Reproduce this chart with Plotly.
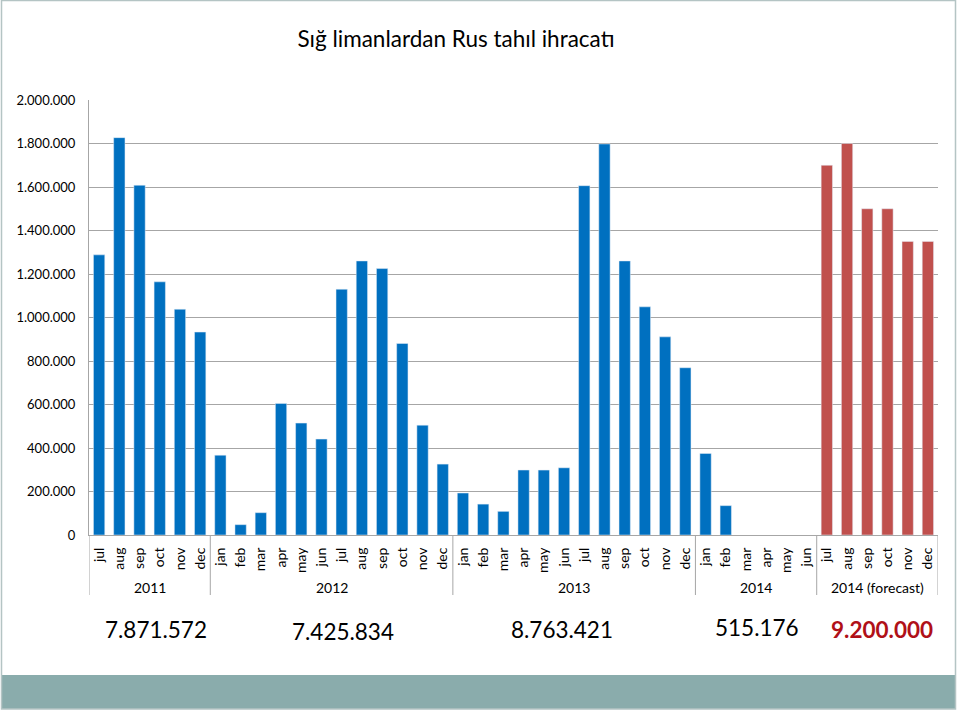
import plotly.graph_objects as go

# ---------------- data ----------------
months = ["jul", "aug", "sep", "oct", "nov", "dec",
          "jan", "feb", "mar", "apr", "may", "jun", "jul", "aug", "sep", "oct", "nov", "dec",
          "jan", "feb", "mar", "apr", "may", "jun", "jul", "aug", "sep", "oct", "nov", "dec",
          "jan", "feb", "mar", "apr", "may", "jun",
          "jul", "aug", "sep", "oct", "nov", "dec"]

actual = [1288000, 1827000, 1608000, 1164000, 1038000, 933000,
          367000, 47500, 102600, 605000, 514500, 441000,
          1130000, 1260000, 1225000, 880500, 505000, 326000,
          193000, 142000, 108700, 298600, 298600, 309000,
          1606000, 1798000, 1260000, 1049000, 911000, 769000,
          375000, 135000, None, None, None, None]

forecast = [1700000, 1800000, 1500000, 1500000, 1350000, 1350000]

groups = ["2011", "2012", "2013", "2014", "2014 (forecast)"]
group_sizes = [6, 12, 12, 6, 6]
totals = ["7.871.572", "7.425.834", "8.763.421", "515.176", "9.200.000"]

title_text = "Sığ limanlardan Rus tahıl ihracatı"
y_ticks = [0, 200000, 400000, 600000, 800000, 1000000, 1200000, 1400000, 1600000, 1800000, 2000000]

# ---------------- layout geometry ----------------
FW, FH = 960, 712
L, R, T, B = 89, 938, 100, 535
PW, PH = R - L, B - T


def px(p):
    return (p - L) / PW


def py(p):
    return (B - p) / PH


FONT = "Lato, Carlito, 'Open Sans', sans-serif"
BLUE = "#0070c0"
RED = "#c0504d"
GRID = "#a6a6a6"

x_all = list(range(len(months)))
x_actual = x_all[:len(actual)]
x_fore = x_all[len(actual):]

fig = go.Figure()
fig.add_trace(go.Bar(x=x_actual, y=actual, marker_color=BLUE, width=0.56,
                     showlegend=False, hoverinfo="y"))
fig.add_trace(go.Bar(x=x_fore, y=forecast, marker_color=RED, width=0.56,
                     showlegend=False, hoverinfo="y"))

shapes = []
annotations = []

# frame: teal band at bottom + thin grey border
shapes.append(dict(type="rect", xref="paper", yref="paper",
                   x0=px(1), x1=px(956), y0=py(709), y1=py(675),
                   fillcolor="#8aacac", line=dict(width=0), layer="below"))
shapes.append(dict(type="rect", xref="paper", yref="paper",
                   x0=px(1.5), x1=px(955.5), y0=py(709), y1=py(0.5),
                   fillcolor="rgba(0,0,0,0)", line=dict(color="#b4c4c4", width=1.5)))

# group separators below the axis and group labels / totals
start = 0
bounds = [-0.5]
for g, n in zip(groups, group_sizes):
    start += n
    bounds.append(start - 0.5)
for b in bounds:
    shapes.append(dict(type="line", xref="x", yref="paper", x0=b, x1=b,
                       y0=0, y1=py(595), line=dict(color=GRID, width=1)))

total_y = [629, 631, 629, 627, 629]
total_x_px = [155.5, 342.8, 562.3, 756.7, 881.7]
for i, g in enumerate(groups):
    center = (bounds[i] + bounds[i + 1]) / 2
    annotations.append(dict(x=center, xref="x", y=py(587), yref="paper",
                            text=g, showarrow=False, xanchor="center", yanchor="middle",
                            font=dict(family=FONT, size=14, color="#000000")))
    last = i == len(groups) - 1
    annotations.append(dict(x=px(total_x_px[i]), xref="paper", y=py(total_y[i]), yref="paper",
                            text=("<b>%s</b>" % totals[i]) if last else totals[i],
                            showarrow=False, xanchor="center", yanchor="middle",
                            font=dict(family=FONT, size=22.5,
                                      color="#b01018" if last else "#000000")))

fig.update_layout(
    width=FW, height=FH,
    margin=dict(l=L, r=FW - R, t=T, b=FH - B, pad=0),
    paper_bgcolor="white", plot_bgcolor="white",
    separators=",.",
    barmode="overlay",
    font=dict(family=FONT, size=12, color="#000000"),
    title=dict(text=title_text, x=px(456), xref="paper", xanchor="center",
               y=1 - 39 / FH, yanchor="middle", yref="container",
               font=dict(family=FONT, size=22.5, color="#000000")),
    xaxis=dict(range=[-0.5, len(months) - 0.5], tickmode="array", tickvals=x_all,
               ticktext=months, tickangle=-90, showgrid=False, zeroline=False,
               showline=True, linecolor=GRID, linewidth=1, ticks="",
               ticklabelstandoff=6,
               tickfont=dict(family=FONT, size=14, color="#000000"),
               automargin=False, fixedrange=True),
    yaxis=dict(range=[0, 2000000], tickmode="array", tickvals=y_ticks,
               tickformat=",d", showgrid=True, gridcolor=GRID, gridwidth=1,
               zeroline=False, showline=True, linecolor=GRID, linewidth=1,
               ticks="", ticklabelstandoff=10,
               tickfont=dict(family=FONT, size=13, color="#000000"),
               automargin=False, fixedrange=True),
    shapes=shapes,
    annotations=annotations,
)

fig.write_html("out.html", config={"displayModeBar": False},
               post_script="document.body.style.margin='0';")
